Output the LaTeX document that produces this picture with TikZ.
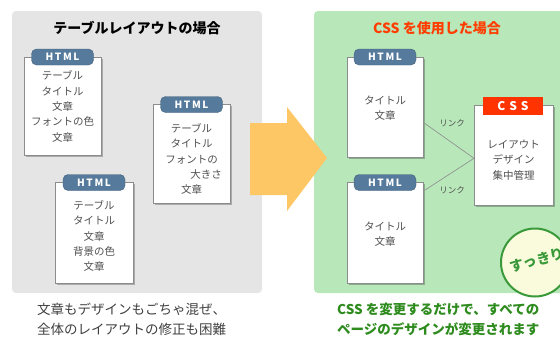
\documentclass[tikz,border=0pt]{standalone}
\usepackage{fontspec}
\setmainfont{Noto Sans CJK JP}
\usetikzlibrary{shadows,calc}
\definecolor{panelgray}{HTML}{E5E5E5}
\definecolor{panelgreen}{HTML}{B8E7B9}
\definecolor{tabblue}{HTML}{557A9B}
\definecolor{cssred}{HTML}{FF3300}
\definecolor{arroworange}{HTML}{FDC766}
\definecolor{titlered}{HTML}{FF3D00}
\definecolor{capgreen}{HTML}{2E8B1E}
\definecolor{ringgreen}{HTML}{3A9A3A}
\definecolor{circfill}{HTML}{FAFBDC}
\definecolor{doctxt}{HTML}{505050}
\tikzset{
  panel/.style={rounded corners=4pt},
  docbox/.style={draw=black!45, fill=white, line width=0.6pt, anchor=north west,
    drop shadow={shadow xshift=1.5pt, shadow yshift=-1.5pt, opacity=0.25, fill=black}},
  htmltab/.style={rounded corners=5pt, fill=tabblue, draw=tabblue!80!black, line width=0.4pt,
    minimum width=62pt, minimum height=16pt, inner sep=0pt, text=white,
    font=\fontsize{10}{10}\selectfont\bfseries},
  csstab/.style={fill=cssred, minimum width=60pt, minimum height=18pt, inner sep=0pt,
    text=white, font=\fontsize{12}{12}\selectfont\bfseries},
  doctext/.style={align=center, text=doctxt, inner sep=0pt, font=\fontsize{10.5}{15.3}\selectfont},
  linktext/.style={text=doctxt, inner sep=0pt, font=\fontsize{8.5}{9}\selectfont},
  linkline/.style={draw=black!45, line width=0.6pt},
  paneltitle/.style={font=\fontsize{14}{15}\selectfont\bfseries},
}
\begin{document}
\begin{tikzpicture}[x=1pt,y=-1pt]
\useasboundingbox (0,0) rectangle (560,338);
\clip (0,0) rectangle (560,338);
% panels
\fill[panel, panelgray] (12,11) rectangle (262,293);
\fill[panel, panelgreen] (314,11) rectangle (575,293);
\node[paneltitle, text=black] (ltitle) at (137,28) {テーブルレイアウトの場合};
\node[paneltitle, text=titlered] (rtitle) at (437,28) {CSS を使用した場合};
% arrow
\fill[arroworange] (250,123) -- (287,123) -- (287,107) -- (327,158) -- (287,211) -- (287,195) -- (250,195) -- cycle;
% left docs
\node[docbox, minimum width=77pt, minimum height=98pt] (d1) at (24,57) {};
\node[htmltab] (t1) at (62.5,57) {H\,T\,M\,L};
\node[doctext] (x1) at (62.5,106.5) {テーブル\\タイトル\\文章\\フォントの色\\文章};
\node[docbox, minimum width=77pt, minimum height=99pt] (d2) at (153,104) {};
\node[htmltab] (t2) at (191.5,104.5) {H\,T\,M\,L};
\node[doctext] (x2) at (191.5,159) {テーブル\\タイトル\\フォントの\\\hspace*{29pt}大きさ\\文章};
\node[docbox, minimum width=78pt, minimum height=101pt] (d3) at (55,182) {};
\node[htmltab] (t3) at (94,182.5) {H\,T\,M\,L};
\node[doctext] (x3) at (94,236) {テーブル\\タイトル\\文章\\背景の色\\文章};
% right docs
\node[docbox, minimum width=76pt, minimum height=100pt] (dA) at (347,57) {};
\node[htmltab] (tA) at (385,57) {H\,T\,M\,L};
\node[doctext] (xA) at (385,108) {タイトル\\文章};
\node[docbox, minimum width=76pt, minimum height=101pt] (dB) at (347,182) {};
\node[htmltab] (tB) at (385,182.5) {H\,T\,M\,L};
\node[doctext] (xB) at (385,234) {タイトル\\文章};
\node[docbox, minimum width=79pt, minimum height=100pt] (dC) at (474,105) {};
\node[csstab] (tC) at (513,106) {C\,\,S\,\,S};
\node[doctext] (xC) at (513.5,160) {レイアウト\\デザイン\\集中管理};
% links
\draw[linkline] ($(dA.east)+(1,16)$) -- ($(dC.west)+(0,3)$);
\draw[linkline] ($(dB.east)+(1,-42.5)$) -- ($(dC.west)+(0,3)$);
\node[linktext] (l1) at (452,123) {リンク};
\node[linktext] (l2) at (452,190) {リンク};
% circle
\node[circle, fill=circfill, draw=ringgreen, line width=2pt, minimum size=68pt, inner sep=0pt] (circ) at (535,262.5) {};
\node[rotate=15, text=ringgreen, font=\fontsize{14}{15}\selectfont\bfseries] (sk) at (537,260) {すっきり};
% captions
\node[align=left, text=black!75, font=\fontsize{13.5}{20}\selectfont, anchor=north west, inner sep=0pt] (lcap) at (37,303) {文章もデザインもごちゃ混ぜ、\\全体のレイアウトの修正も困難};
\node[align=left, text=capgreen, font=\fontsize{13.5}{20}\selectfont\bfseries, anchor=north west, inner sep=0pt] (rcap) at (337,303) {CSS を変更するだけで、すべての\\ページのデザインが変更されます};
\end{tikzpicture}
\end{document}
